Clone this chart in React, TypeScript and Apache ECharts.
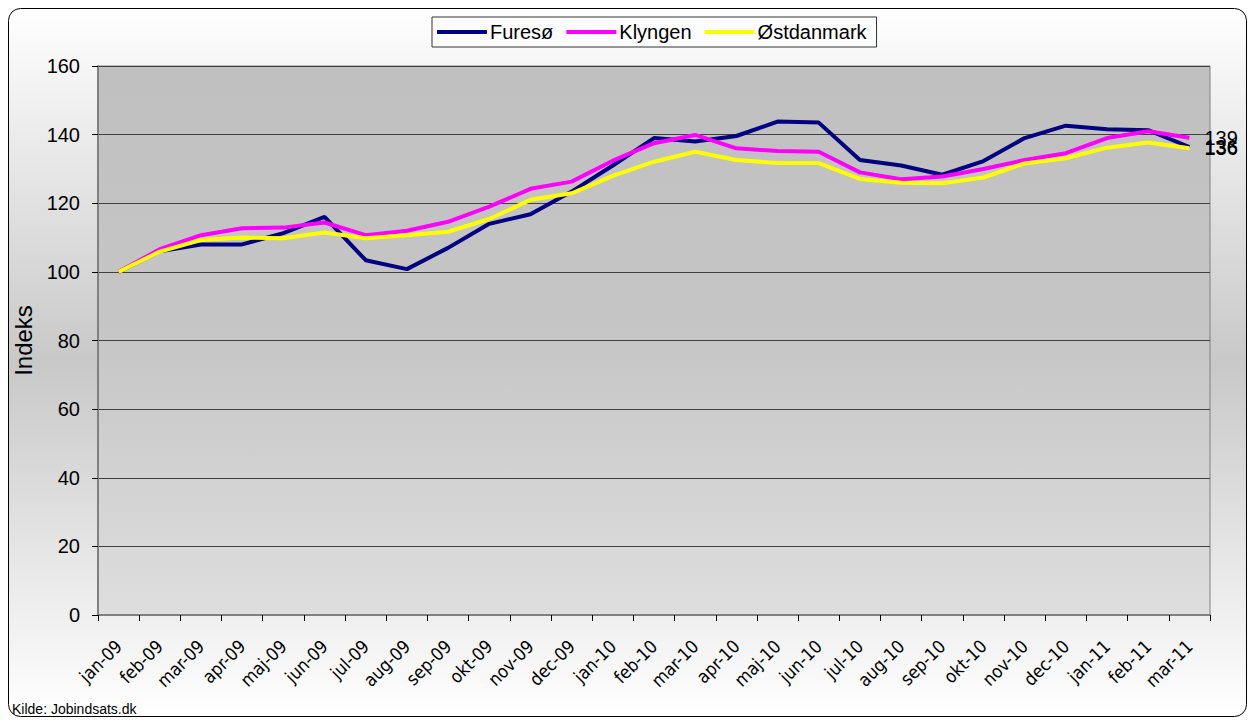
import React, { useEffect, useRef } from "react";
import * as echarts from "echarts";

const months = [
  "jan-09", "feb-09", "mar-09", "apr-09", "maj-09", "jun-09", "jul-09", "aug-09", "sep-09",
  "okt-09", "nov-09", "dec-09", "jan-10", "feb-10", "mar-10", "apr-10", "maj-10", "jun-10",
  "jul-10", "aug-10", "sep-10", "okt-10", "nov-10", "dec-10", "jan-11", "feb-11", "mar-11",
];

const furesoe = [
  100, 106, 108, 108, 111.3, 116, 103.4, 100.8, 107, 114, 116.8, 123.4, 131, 139, 138,
  139.6, 143.8, 143.5, 132.6, 131, 128.3, 132.3, 139, 142.6, 141.6, 141.3, 136.4,
];
const klyngen = [
  100, 106.6, 110.7, 112.7, 112.9, 114.4, 110.7, 112, 114.6, 119, 124.2, 126.3, 132.4, 137.5,
  139.9, 136, 135.2, 135, 129, 127, 127.8, 130, 132.6, 134.6, 139, 141, 139.1,
];
const oestdanmark = [
  100, 105.9, 109.3, 110, 109.8, 111.5, 109.8, 110.7, 111.7, 115.4, 121, 122.9, 128, 132.1,
  135, 132.6, 131.7, 131.7, 127.1, 126, 125.8, 127.5, 131.6, 133.1, 136.2, 137.7, 136,
];

const yTicks = { min: 0, max: 160, interval: 20 };

const seriesDefs = [
  { name: "Furesø", data: furesoe, color: "#000080" },
  { name: "Klyngen", data: klyngen, color: "#ff00ff" },
  { name: "Østdanmark", data: oestdanmark, color: "#ffff00" },
];

const FONT = "'Liberation Sans', Arial, sans-serif";
const NARROW = "'Liberation Sans Narrow', 'DejaVu Sans Condensed', 'Liberation Sans', sans-serif";

export default function App() {
  const ref = useRef<HTMLDivElement>(null);

  useEffect(() => {
    if (!ref.current) return;
    const chart = echarts.init(ref.current, undefined, { renderer: "svg" });
    chart.setOption({
      animation: false,
      backgroundColor: "#ffffff",
      graphic: [
        {
          type: "rect",
          z: -10,
          silent: true,
          shape: { x: 8.5, y: 8.5, width: 1238, height: 708, r: 12 },
          style: {
            fill: {
              type: "linear",
              x: 0, y: 0, x2: 0, y2: 1,
              colorStops: [
                { offset: 0, color: "#ffffff" },
                { offset: 0.5, color: "#c8c8c8" },
                { offset: 1, color: "#ffffff" },
              ],
            },
            stroke: "#000000",
            lineWidth: 1,
          },
        },
        {
          type: "text",
          left: 12,
          top: 702,
          style: { text: "Kilde: Jobindsats.dk", font: `14px ${FONT}`, fill: "#000" },
        },
      ],
      legend: {
        left: 432,
        top: 17,
        orient: "horizontal",
        itemWidth: 50,
        itemHeight: 4,
        itemGap: 13,
        icon: "rect",
        backgroundColor: "#fcfcfc",
        borderColor: "#333333",
        borderWidth: 1,
        borderRadius: 0,
        padding: [5, 10, 5, 5],
        textStyle: { fontFamily: FONT, fontSize: 20, color: "#000", padding: [0, 0, 0, -2] },
        data: seriesDefs.map((s) => s.name),
      },
      grid: {
        left: 98,
        right: 40,
        top: 66,
        bottom: 105,
        show: true,
        backgroundColor: {
          type: "linear",
          x: 0, y: 0, x2: 0, y2: 1,
          colorStops: [
            { offset: 0, color: "#c0c0c0" },
            { offset: 0.5, color: "#c6c6c6" },
            { offset: 1, color: "#dedede" },
          ],
        },
        borderColor: "#808080",
        borderWidth: 1,
      },
      xAxis: {
        type: "category",
        data: months,
        boundaryGap: true,
        axisLine: { show: true, lineStyle: { color: "#808080", width: 2 } },
        axisTick: { show: true, length: 6, lineStyle: { color: "#000", width: 1 } },
        axisLabel: {
          rotate: 45,
          interval: 0,
          margin: 28,
          fontFamily: NARROW,
          fontSize: 18,
          color: "#000",
        },
        splitLine: { show: false },
      },
      yAxis: {
        type: "value",
        min: yTicks.min,
        max: yTicks.max,
        interval: yTicks.interval,
        name: "Indeks",
        nameLocation: "middle",
        nameGap: 56,
        nameRotate: 90,
        nameTextStyle: { fontFamily: FONT, fontSize: 24, color: "#000" },
        axisLine: { show: true, lineStyle: { color: "#808080", width: 2 } },
        axisTick: { show: true, length: 6, lineStyle: { color: "#000", width: 1 } },
        axisLabel: { fontFamily: FONT, fontSize: 20, color: "#000", margin: 18 },
        splitLine: { show: true, lineStyle: { color: "#404040", width: 1 } },
      },
      series: seriesDefs.map((s) => ({
        name: s.name,
        type: "line",
        data: s.data,
        symbol: "none",
        showSymbol: false,
        color: s.color,
        lineStyle: { color: s.color, width: 4 },
        endLabel: {
          show: true,
          distance: 15,
          fontFamily: FONT,
          fontSize: 20,
          color: "#000",
          formatter: (p: any) => String(Math.round(p.value)),
        },
      })),
    });
    return () => chart.dispose();
  }, []);

  return (
    <div
      ref={ref}
      style={{ position: "fixed", left: 0, top: 0, width: 1250, height: 720 }}
    />
  );
}
